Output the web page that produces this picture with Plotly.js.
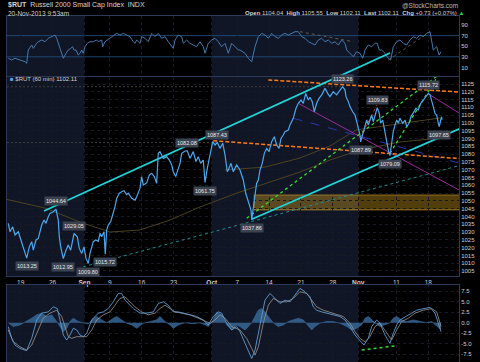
<!DOCTYPE html>
<html><head><meta charset="utf-8">
<script src="https://cdn.plot.ly/plotly-3.0.1.min.js"></script>
<style>html,body{margin:0;padding:0;background:#000;}#chart{width:480px;height:362px;}</style>
</head><body><div id="chart"></div>
<script>
// x = trading-day index (0 = Mon 19-Aug-2013), 60-minute bars of $RUT
const priceX = [-1.95,-1.68,-1.26,-0.89,-0.38,0.16,0.52,0.94,1.35,1.73,1.98,2.40,2.76,3.03,3.30,3.66,3.97,4.33,4.60,5.12,5.54,5.90,6.06,6.28,6.69,7.11,7.47,7.85,8.26,8.37,8.89,9.20,9.58,9.94,10.25,10.61,10.88,11.15,11.40,11.78,12.18,12.45,12.72,13.08,13.28,13.50,13.75,14.13,14.54,14.81,15.07,15.48,15.86,16.22,16.64,16.89,17.43,17.95,18.21,18.73,19.00,19.25,19.78,20.19,20.57,20.98,21.35,21.60,21.87,22.39,22.92,23.33,23.71,23.96,24.34,24.74,25.01,25.28,25.80,26.16,26.58,27.10,27.52,27.88,28.26,28.67,28.94,29.30,29.72,30.15,30.51,30.87,31.29,31.72,32.08,32.44,32.60,33.02,33.38,33.91,34.43,34.95,35.33,35.74,36.16,36.27,36.68,36.90,37.05,37.31,37.57,37.93,38.25,38.63,38.99,39.41,39.82,40.19,40.56,40.87,41.23,41.50,42.02,42.28,42.80,43.07,43.23,43.59,44.01,44.37,44.75,45.16,45.42,45.78,46.10,46.47,46.84,47.26,47.78,48.20,48.56,49.08,49.61,50.13,50.56,50.92,51.08,51.44,51.70,52.13,52.49,52.76,53.01,53.27,53.38,53.79,54.06,54.33,54.58,54.84,55.11,55.36,55.63,55.99,56.30,56.52,56.84,57.04,57.25,57.47,57.72,57.98,58.25,58.50,58.77,59.04,59.29,59.55,59.98,60.34,60.61,60.97,61.28,61.64,62.07,62.43,62.81,63.22,63.64,64.00,64.27,64.53,64.78,65.05,65.32,65.57,65.73,65.95,66.08,66.16];
const priceV = [1035.6,1030.2,1033.4,1028.1,1030.2,1023.8,1018.4,1013.25,1020.5,1023.8,1018.4,1024.9,1025.9,1030.2,1034.5,1037.7,1035.6,1039.8,1042.0,1043.0,1044.64,1037.7,1027.0,1020.5,1012.95,1018.4,1021.7,1018.4,1025.9,1029.05,1027.0,1019.5,1016.3,1020.5,1013.1,1009.8,1016.3,1020.5,1023.8,1024.9,1024.0,1029.2,1027.0,1030.2,1015.72,1031.3,1034.5,1036.6,1042.0,1046.3,1051.6,1054.9,1055.9,1056.5,1054.0,1054.9,1051.6,1050.5,1052.7,1058.0,1065.6,1060.2,1061.5,1066.6,1067.7,1065.6,1061.3,1080.5,1081.6,1077.3,1078.4,1076.2,1073.0,1068.7,1065.6,1070.9,1074.1,1080.5,1082.0,1082.08,1077.3,1081.6,1075.2,1078.4,1074.1,1076.2,1061.75,1070.9,1080.5,1088.0,1085.9,1087.43,1083.7,1087.0,1079.5,1068.7,1069.8,1074.1,1068.7,1073.0,1069.8,1063.4,1054.9,1049.5,1044.1,1037.86,1048.4,1057.0,1061.3,1063.4,1069.8,1074.1,1080.5,1083.7,1081.6,1088.0,1091.2,1085.9,1083.7,1090.1,1092.3,1094.4,1095.5,1098.7,1103.0,1107.2,1109.4,1112.6,1114.7,1112.6,1119.0,1114.7,1116.5,1113.7,1107.2,1112.6,1115.8,1118.0,1122.2,1119.0,1116.9,1120.1,1118.0,1121.1,1123.26,1121.1,1116.9,1113.7,1110.5,1107.2,1105.1,1100.8,1096.6,1092.3,1087.89,1094.4,1098.7,1101.9,1098.7,1101.9,1105.1,1100.8,1105.1,1109.83,1106.2,1099.8,1101.9,1097.6,1092.3,1087.0,1082.6,1079.09,1088.0,1094.4,1098.7,1101.9,1099.8,1103.0,1099.8,1101.9,1097.6,1099.8,1104.1,1106.2,1109.4,1108.4,1112.6,1114.7,1116.9,1119.0,1118.0,1114.7,1110.5,1106.2,1105.1,1099.8,1097.65,1101.9,1104.0,1102.11];

const rsiX = [-1.95,-1.41,-0.89,-0.11,0.68,0.94,1.19,1.73,1.98,2.51,2.76,3.30,3.82,4.33,4.87,5.39,5.65,6.06,6.44,6.69,7.11,7.47,7.85,8.16,8.37,8.68,9.04,9.31,9.58,9.83,10.10,10.46,10.88,11.40,11.93,12.18,12.72,12.87,13.24,13.60,14.02,14.54,15.07,15.59,16.11,16.64,17.16,17.68,17.95,18.21,18.73,19.00,19.52,20.03,20.57,21.09,21.60,22.14,22.66,23.17,23.71,23.96,24.23,24.74,25.28,25.53,26.06,26.58,27.10,27.63,28.15,28.67,28.94,29.45,29.99,30.51,31.03,31.56,32.08,32.60,33.13,33.65,34.17,34.43,35.22,35.74,36.27,36.79,37.31,37.84,38.36,38.88,39.41,39.93,40.45,40.98,41.50,42.02,42.55,43.07,43.59,44.12,44.64,45.16,45.69,46.21,46.73,47.26,47.78,48.30,48.83,49.35,49.87,50.40,50.92,51.19,51.70,52.22,52.76,53.27,53.70,54.06,54.58,55.11,55.63,55.99,56.30,56.68,57.20,57.72,58.09,58.50,59.04,59.55,60.07,60.61,61.12,61.64,62.18,62.70,63.22,63.75,64.27,64.78,65.32,65.68,66.00];
const rsiV = [27.2,24,27.2,24,20.8,17.7,42.8,52.3,46,55.5,58.5,61.7,58.5,64.9,68,71.1,64.9,49,33.4,27.2,36.6,42.8,46,49,42.8,42.8,33.4,36.6,42.8,36.6,49,55.5,58.5,58.5,61.7,58.5,61.7,49,58.5,61.7,64.9,71.1,74.3,71.1,74.3,71.1,68,58.5,55.5,61.7,55.5,68,64.9,58.5,74.3,68,74.3,64.9,68,58.5,49,46,61.7,71.1,68,55.5,61.7,55.5,52.3,49,58.5,49,36.6,55.5,61.7,64.9,58.5,49,55.5,36.6,55.5,49,42.8,42.8,36.6,27.2,20.8,49,68,74.3,71.1,64.9,74.3,68,64.9,71.1,74.3,71.1,74.3,77.4,77.4,68,64.9,58.5,55.5,52.3,61.7,64.9,58.5,61.7,55.5,58.5,52.3,61.7,55.5,42.8,36.6,30.3,39.7,36.6,27.2,42.8,52.3,49,55.5,55.5,42.8,42.8,36.6,27.2,24,49,58.5,61.7,55.5,52.3,61.7,68,64.9,71.1,68,74.3,77.4,42.8,49,33.4,39.7];

const macdX = [-1.95,-1.41,-0.89,-0.11,0.68,0.94,1.73,2.51,3.30,4.33,5.12,5.75,6.17,6.69,7.22,7.74,8.26,8.79,9.31,9.83,10.36,11.15,12.18,12.97,13.75,14.54,15.32,15.86,16.38,17.16,17.68,18.73,19.78,20.82,21.60,22.39,23.17,23.96,24.74,25.53,26.58,27.63,28.67,29.45,30.24,31.03,31.56,32.34,33.13,33.91,34.43,35.22,35.74,36.27,36.79,37.57,38.36,39.14,39.66,40.19,40.71,41.50,42.28,43.07,43.85,44.64,45.42,45.94,46.47,47.26,48.04,49.08,50.13,50.92,51.70,52.49,53.27,53.90,54.58,55.11,55.89,56.41,57.20,57.98,58.50,59.04,59.55,60.61,61.39,62.18,63.22,64.27,65.05,65.57,66.00];
const macdV = [-0.93,-3.7,-5.3,-6.1,-6.5,-6.6,-3.7,0.67,2.3,2.6,3.8,3.4,0.67,-2.9,-4.1,-2.9,-1.3,-1.7,-2.9,-3.3,-2.5,0.67,2.3,2.6,3.4,5,7,7,5.4,4.2,3.4,2.3,2.3,2.6,4.6,5,4.2,2.6,2.6,2.3,1.9,1.5,0.67,-0.5,1.5,2.6,2.3,-0.1,-1.7,-0.9,-2.1,-4.9,-6.9,-8.5,-6.5,-0.1,5.4,7,6.2,5.4,4.6,5.4,5,6.6,8.2,7.4,6.2,3.8,3,2.6,2.3,1.9,1.5,0.67,-0.9,-2.9,-4.1,-5.3,-3.7,-0.9,0.67,-0.1,-2.9,-4.9,-2.5,-0.5,0.67,1.5,2.3,3,3.4,3.7,2.3,-0.1,-2.1];
const signalX = [-1.95,-1.16,-0.11,0.94,1.73,2.76,3.55,4.60,5.65,6.44,6.96,7.47,8.01,8.79,9.58,10.36,11.15,11.93,12.97,14.02,14.81,15.59,16.38,17.16,17.95,19.00,20.03,21.09,21.87,22.66,23.45,24.23,25.28,26.58,27.88,28.94,29.72,30.51,31.29,32.08,33.13,34.43,35.48,36.27,36.79,37.31,38.09,38.88,39.66,40.71,41.76,42.80,43.85,44.90,45.69,46.47,47.51,49.08,50.65,51.70,52.49,53.27,54.06,54.84,55.63,56.41,57.47,58.25,59.04,59.82,60.87,61.92,63.22,64.53,65.32,66.00];
const signalV = [-1.7,-4.5,-5.7,-6.5,-5.3,-1.7,1.1,2.3,3,1.5,-0.9,-3.3,-3.7,-3.3,-3.3,-3.3,-1.7,0.67,1.9,2.6,4.2,5.8,6.2,5,3.8,2.6,1.9,2.3,3.4,4.2,3.4,2.6,2.3,1.9,1.1,0.3,-0.1,0.67,1.9,1.1,-0.9,-1.7,-3.7,-6.1,-7.7,-5.7,-0.1,4.2,5.8,5,5,5.8,7.4,7,5.4,3.8,3,2.3,1.5,-0.1,-2.1,-3.7,-4.5,-3.3,-0.9,-0.1,-2.5,-4.1,-1.7,0.3,1.1,2.3,3,3.4,2.6,-0.9];
const histX = [-1.95,-1.16,-0.11,0.94,1.73,2.51,3.30,4.08,4.87,5.65,6.17,6.69,7.22,7.74,8.26,9.04,9.83,10.61,11.40,11.93,12.72,13.50,14.54,15.07,15.86,16.64,17.43,18.21,19.25,20.30,21.35,21.87,22.66,23.45,23.96,24.74,25.80,27.10,28.15,28.94,29.45,30.24,30.77,31.56,32.34,33.13,33.91,34.43,35.22,35.74,36.27,36.79,37.31,37.84,38.36,38.88,39.66,40.45,41.23,42.02,42.80,43.59,44.37,45.16,45.69,46.21,46.99,48.04,49.08,50.13,51.19,51.97,52.76,53.54,54.06,54.58,55.11,55.63,56.41,57.20,57.98,58.50,59.04,59.82,60.61,61.64,62.70,63.75,64.53,65.32,66.00];
const histV = [0,-0.9,-0.5,0.3,1.1,1.9,2.3,1.5,1.9,0.3,-0.9,-2.1,-1.3,0.3,1.1,0.3,0,-0.3,1.1,1.5,0.7,0,1.1,1.5,0.7,-0.1,-0.5,-1.3,-0.1,0.3,0.7,1.5,0.3,-0.5,-1.3,-0.5,0,-0.2,0,-0.5,-0.9,0.7,2.6,1.9,-0.5,-1.7,-0.5,-0.9,-1.7,-0.9,0,1.5,3,3.4,2.6,1.5,0,-0.9,-0.5,0.3,0.7,1.1,0.7,-0.9,-1.7,-0.9,-0.1,0.3,0.3,-0.1,-0.9,-1.7,-1.3,-0.5,1.1,1.5,0.7,0,-0.9,-0.5,0,1.1,1.5,0.7,0.3,0.7,0.3,0,0.3,-0.9,-1.7];

// moving averages
const maSlowX = [-2.47,3.82,9.31,14.02,18.73,23.45,28.15,34.43,39.14,43.85,48.56,53.27,59.55,65.83];
const maSlowV = [1051.2,1045.4,1036.4,1030.0,1031.3,1037.7,1046.1,1055.7,1062.1,1068.5,1076.2,1082.6,1087.8,1090.3];
const maFastX = [32.08,38.36,43.85,48.56,52.65,57.98,65.83];
const maFastV = [1069.8,1071.7,1077.5,1085.2,1095.5,1098.7,1103.2];

// drawn trendlines (endpoints in trading-day index / price)
const chanUpperX = [3.66,57.98], chanUpperV = [1043.5,1144.9];
const chanUpperRsiX = [49.4,57.98], chanUpperRsiV = [-10,37.2];
const chanLowerX = [36.27,72.1], chanLowerV = [1038.2,1101.9];
const tealX = [9.83,72.1], tealV = [1007.7,1076.2];
const orangeTopX = [38.88,72.1], orangeTopV = [1127.6,1119.0];
const orangeMidX = [30.24,72.1], orangeMidV = [1088.6,1076.2];
const greenAX = [35.48,65.62], greenAV = [1038.8,1130.8];
const greenBX = [57.98,65.62], greenBV = [1080.5,1130.8];
const redX = [53.27,55.94], redV = [1090.3,1111.5];
const magAX = [43.59,68.82], magAV = [1112.6,1057.0];
const magBX = [64.27,68.82], magBV = [1118.0,1106.4];
const navyX = [42.80,68.82], navyV = [1103.0,1074.3];
const resistX = [-2.15,50.56], resistV = [1123.26,1123.26];
const supportX = [-2.15,30.87], supportV = [1087.43,1087.43];
const goldZoneX = [36.65,70.0], goldZoneV = [1044.2,1053.8];
const macdDivX = [53.54,58.77], macdDivV = [-6.5,-5.5];
const rsiTrendAX = [43.85,52.22], rsiTrendAV = [77.4,58.5];
const rsiTrendBX = [57.72,64.27], rsiTrendBV = [24,77.4];

// labelled pivots
const pivotX = [0.94,5.54,6.69,8.37,10.61,13.28,28.94,26.16,30.87,36.27,50.56,55.99,53.38,57.98,64.00,65.73];
const pivotV = [1013.25,1044.64,1012.95,1029.05,1009.80,1015.72,1061.75,1082.08,1087.43,1037.86,1123.26,1109.83,1087.89,1079.09,1119.0,1097.65];
const pivotText = ['1013.25','1044.64','1012.95','1029.05','1009.80','1015.72','1061.75','1082.08','1087.43','1037.86','1123.26','1109.83','1087.89','1079.09','1115.72','1097.65'];
const pivotKind = ['L','H','L','H','L','L','L','H','H','L','H','H','L','L','H','L'];

// axes
const tickX = [0,5,10,14,19,24,30,34,39,44,49,53,59,64];
const tickText = ['19','26','<b>Sep</b>','9','16','23','<b>Oct</b>','7','14','21','28','<b>Nov</b>','11','18'];
const monthBandStart = [-2.15,30];
const monthBandEnd = [10,53];
const priceTicks = [1005,1010,1015,1020,1025,1030,1035,1040,1045,1050,1055,1060,1065,1070,1075,1080,1085,1090,1095,1100,1105,1110,1115,1120,1125];
const rsiTicks = [10,30,50,70,90];
const rsiLevels = [30,70];
const macdTicks = [-7.5,-5,-2.5,0,2.5,5,7.5];
const macdTickText = ['-7.5','-5.0','-2.5','0.0','2.5','5.0','7.5'];

const symbol = '$RUT', symbolName = 'Russell 2000 Small Cap Index', exch = 'INDX';
const stamp = '20-Nov-2013 9:53am';
const qOpen = '1104.04', qHigh = '1105.55', qLow = '1102.11', qLast = '1102.11', qChg = '+0.73', qChgPct = '(+0.07%)';

const F = 'Liberation Sans, Arial, sans-serif';
function ln(x, y, color, width, dash, yaxis) {
  return {x: x, y: y, type: 'scatter', mode: 'lines', yaxis: yaxis || 'y',
    line: {color: color, width: width, dash: dash || 'solid'}, hoverinfo: 'skip'};
}
const traces = [
  ln(maSlowX, maSlowV, '#4d4120', 1),
  ln(maFastX, maFastV, '#4d4120', 1),
  ln(resistX, resistV, '#3f3f3f', 1, '2px,2px'),
  ln(supportX, supportV, '#3f3f3f', 1, '2px,2px'),
  ln(tealX, tealV, '#1d8c92', 1, 'dot'),
  ln(navyX, navyV, '#2a36b0', 1, 'dash'),
  ln(magAX, magAV, '#9c2a9c', 1),
  ln(magBX, magBV, '#9c2a9c', 1),
  ln(orangeTopX, orangeTopV, '#ff7a1a', 1.5, '4px,2px'),
  ln(orangeMidX, orangeMidV, '#ff7a1a', 1.5, '4px,2px'),
  ln(greenAX, greenAV, '#33dd33', 1.3, 'dot'),
  ln(greenBX, greenBV, '#33dd33', 1.3, 'dot'),
  ln(redX, redV, '#c83030', 1, 'dot'),
  ln(chanUpperX, chanUpperV, '#22d3d8', 1.8),
  ln(chanLowerX, chanLowerV, '#22d3d8', 1.8),
  ln(priceX, priceV, '#4ea6ec', 1.2),
  ln(rsiTrendAX, rsiTrendAV, '#6b5a48', 1, 'dot', 'y2'),
  ln(rsiTrendBX, rsiTrendBV, '#555555', 1, 'dot', 'y2'),
  ln(rsiX, rsiV, '#4578ad', 1, 'solid', 'y2'),
  ln(chanUpperRsiX, chanUpperRsiV, '#22d3d8', 1.8, 'solid', 'y2'),
  {x: histX, y: histV, type: 'scatter', mode: 'lines', yaxis: 'y3', fill: 'tozeroy',
    fillcolor: 'rgba(58,108,158,0.8)', line: {color: '#3a6c9e', width: 0.6}, hoverinfo: 'skip'},
  ln(signalX, signalV, '#9d968a', 0.8, 'solid', 'y3'),
  ln(macdX, macdV, '#5f9bd2', 0.9, 'solid', 'y3'),
  ln(macdDivX, macdDivV, '#33dd33', 1.5, 'dot', 'y3')
];

const shapes = [];
['y domain', 'y2 domain', 'y3 domain'].forEach(function (ref) {
  for (let i = 0; i < monthBandStart.length; i++) {
    shapes.push({type: 'rect', xref: 'x', yref: ref, x0: monthBandStart[i], x1: monthBandEnd[i], y0: 0, y1: 1,
      fillcolor: '#111626', line: {width: 0}, layer: 'below'});
  }
});
rsiLevels.forEach(function (lv) {
  shapes.push({type: 'line', xref: 'x domain', yref: 'y2', x0: 0, x1: 1, y0: lv, y1: lv,
    line: {color: '#1f4570', width: 1}, layer: 'below'});
});
shapes.push({type: 'rect', xref: 'x', yref: 'y', x0: goldZoneX[0], x1: goldZoneX[1], y0: goldZoneV[0], y1: goldZoneV[1],
  fillcolor: 'rgba(196,146,28,0.42)', line: {color: 'rgba(220,170,50,0.55)', width: 1}, layer: 'below'});

const W = 452, H = 346, L = 7, T = 16;
function px(x) { return (x - L) / W; }
function py(y) { return (T + H - y) / H; }
const annotations = [
  {xref: 'paper', yref: 'paper', x: px(6), y: py(5), xanchor: 'left', yanchor: 'middle', showarrow: false,
    text: '<b>' + symbol + '</b>  ' + symbolName + '  ' + exch, font: {family: F, size: 7, color: '#d6d6d6'}},
  {xref: 'paper', yref: 'paper', x: px(6), y: py(13), xanchor: 'left', yanchor: 'middle', showarrow: false,
    text: stamp, font: {family: F, size: 6.5, color: '#d0d0d0'}},
  {xref: 'paper', yref: 'paper', x: px(460), y: py(6), xanchor: 'right', yanchor: 'middle', showarrow: false,
    text: '@StockCharts.com', font: {family: F, size: 6.5, color: '#bdbdbd'}},
  {xref: 'paper', yref: 'paper', x: px(243), y: py(13), xanchor: 'left', yanchor: 'middle', showarrow: false,
    text: '<b>Open</b> ' + qOpen + '  <b>High</b> ' + qHigh + '  <b>Low</b> ' + qLow + '  <b>Last</b> ' + qLast +
      '  <b>Chg</b> ' + qChg + ' ' + qChgPct + ' <span style="color:#2ecc40">▲</span>',
    font: {family: F, size: 6, color: '#d0d0d0'}},
  {xref: 'paper', yref: 'paper', x: px(8), y: py(79), xanchor: 'left', yanchor: 'middle', showarrow: false,
    text: '<span style="color:#4ea6ec">■</span> ' + symbol + ' (60 min) ' + qLast, font: {family: F, size: 6, color: '#d0d0d0'}}
];
for (let i = 0; i < pivotX.length; i++) {
  annotations.push({xref: 'x', yref: 'y', x: pivotX[i], y: pivotV[i], text: pivotText[i], showarrow: false,
    yshift: pivotKind[i] === 'H' ? 8 : -8, font: {family: F, size: 5.5, color: '#e8e8e8'},
    bgcolor: '#3b4250', borderpad: 1});
}

const axisLine = '#2a3a58';
const layout = {
  width: 480, height: 362,
  margin: {l: L, r: 480 - L - W, t: T, b: 0},
  paper_bgcolor: '#000', plot_bgcolor: '#000',
  showlegend: false,
  font: {family: F, color: '#d0d0d0'},
  xaxis: {domain: [0, 1], range: [-2.15, 68.82], anchor: 'y', tickvals: tickX, ticktext: tickText,
    tickfont: {size: 6.5, color: '#d0d0d0'}, ticks: '', showgrid: true, gridcolor: '#171a22', griddash: 'dot',
    showline: true, linecolor: axisLine, mirror: 'all', zeroline: false, automargin: false},
  yaxis: {domain: [0.2486, 0.8237], range: [1001.8, 1129.5], side: 'right', anchor: 'x', tickvals: priceTicks,
    tickfont: {size: 6, color: '#cfcfcf'}, ticks: '', showgrid: true, gridcolor: '#171a22', griddash: 'dot',
    showline: true, linecolor: axisLine, mirror: true, zeroline: false, automargin: false},
  yaxis2: {domain: [0.8266, 1], range: [-6.2, 107], side: 'right', anchor: 'x', tickvals: rsiTicks,
    tickfont: {size: 6, color: '#cfcfcf'}, ticks: '', showgrid: false,
    showline: true, linecolor: axisLine, mirror: true, zeroline: false, automargin: false},
  yaxis3: {domain: [0, 0.2225], range: [-9.33, 9.0], side: 'right', anchor: 'x', tickvals: macdTicks, ticktext: macdTickText,
    tickfont: {size: 6, color: '#cfcfcf'}, ticks: '', showgrid: true, gridcolor: '#171a22', griddash: 'dot',
    showline: true, linecolor: axisLine, mirror: true, zeroline: false, automargin: false},
  shapes: shapes,
  annotations: annotations
};
Plotly.newPlot('chart', traces, layout, {staticPlot: true, displayModeBar: false});
</script></body></html>
